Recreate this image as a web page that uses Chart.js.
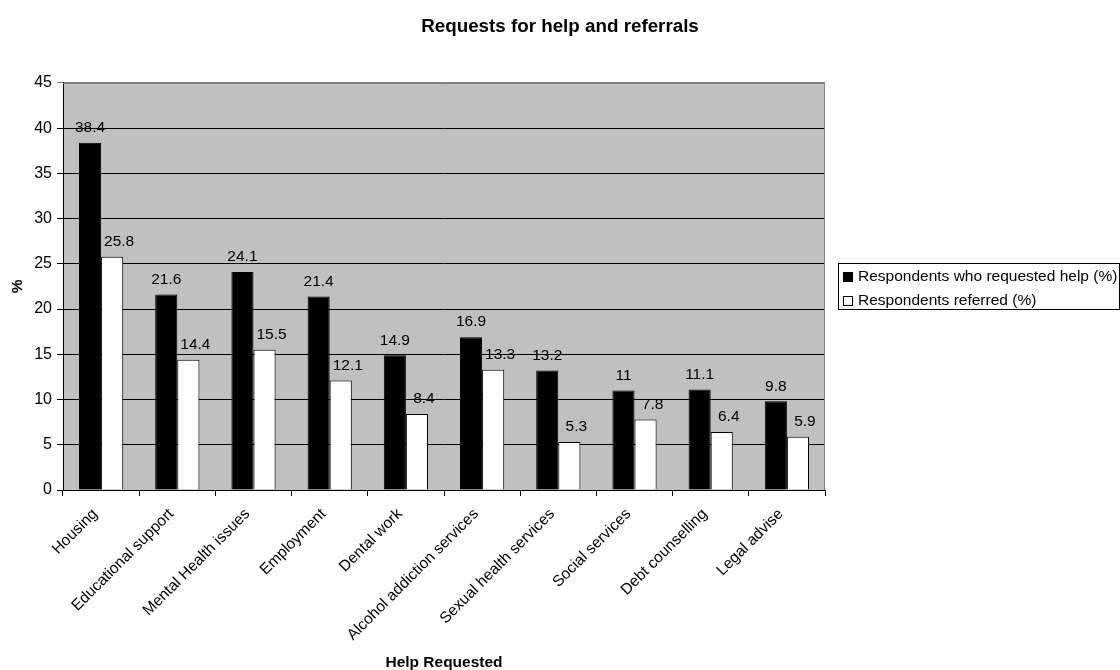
<!DOCTYPE html>
<html>
<head>
<meta charset="utf-8">
<title>Requests for help and referrals</title>
<script src="https://cdn.jsdelivr.net/npm/chart.js@4/dist/chart.umd.min.js"></script>
<style>
  html, body { margin: 0; padding: 0; background: #fff; }
  #wrap { position: relative; width: 1120px; height: 670px; }
  #legend {
    position: absolute; left: 838px; top: 263px; width: 280px; height: 45px;
    border: 1px solid #000; font: 15.5px 'Liberation Sans', Arial, sans-serif; color: #000;
    padding-top: 0;
  }
  #legend .row { height: 24px; line-height: 24px; white-space: nowrap; }
  #legend .sw { display: inline-block; width: 8px; height: 8px; border: 1px solid #000;
    margin: 0 5px 0 4px; vertical-align: -1px; }
</style>
</head>
<body>
<div id="wrap">
  <canvas id="chart"></canvas>
  <div id="legend"></div>
</div>
<script>
'use strict';

const categories = ['Housing', 'Educational support', 'Mental Health issues', 'Employment', 'Dental work',
  'Alcohol addiction services', 'Sexual health services', 'Social services', 'Debt counselling', 'Legal advise'];
const requestedHelp = [38.4, 21.6, 24.1, 21.4, 14.9, 16.9, 13.2, 11, 11.1, 9.8];
const referred = [25.8, 14.4, 15.5, 12.1, 8.4, 13.3, 5.3, 7.8, 6.4, 5.9];
const seriesNames = ['Respondents who requested help (%)', 'Respondents referred (%)'];
const seriesColors = ['#000000', '#ffffff'];

const FONT = "'Liberation Sans', Arial, sans-serif";
const $ = id => document.getElementById(id);

// Gray plot area plus gray frame on top/right (Excel style)
const plotArea = {
  id: 'plotArea',
  beforeDraw(chart) {
    const { ctx, chartArea: a } = chart;
    ctx.save();
    ctx.fillStyle = '#c0c0c0';
    ctx.fillRect(a.left, a.top, a.right - a.left, a.bottom - a.top);
    ctx.restore();
  },
  beforeDatasetsDraw(chart) {
    const { ctx, chartArea: a } = chart;
    ctx.save();
    ctx.strokeStyle = '#808080';
    ctx.lineWidth = 1;
    ctx.beginPath();
    ctx.moveTo(a.left, a.top + 0.5);
    ctx.lineTo(a.right - 0.5, a.top + 0.5);
    ctx.lineTo(a.right - 0.5, a.bottom);
    ctx.stroke();
    ctx.restore();
  }
};

// Value labels above bars
const valueLabels = {
  id: 'valueLabels',
  afterDatasetsDraw(chart) {
    const { ctx } = chart;
    ctx.save();
    ctx.font = `15.5px ${FONT}`;
    ctx.fillStyle = '#000';
    ctx.textAlign = 'center';
    ctx.textBaseline = 'middle';
    chart.data.datasets.forEach((ds, di) => {
      chart.getDatasetMeta(di).data.forEach((bar, i) => {
        ctx.fillText(String(ds.data[i]), bar.x + (di === 1 ? 7 : 0), bar.y - 15);
      });
    });
    ctx.restore();
  }
};

new Chart($('chart'), {
  type: 'bar',
  data: {
    labels: categories,
    datasets: [
      { label: seriesNames[0], data: requestedHelp, backgroundColor: seriesColors[0],
        borderColor: '#000', borderWidth: 1 },
      { label: seriesNames[1], data: referred, backgroundColor: seriesColors[1],
        borderColor: '#000', borderWidth: 1 }
    ]
  },
  options: {
    responsive: true,
    maintainAspectRatio: false,
    animation: false,
    layout: { padding: 0 },
    datasets: { bar: { barPercentage: 1, categoryPercentage: 0.58 } },
    plugins: {
      legend: { display: false },
      tooltip: { enabled: false },
      title: {
        display: true,
        text: 'Requests for help and referrals',
        color: '#000',
        font: { family: FONT, size: 18.8, weight: 'bold', lineHeight: 1.2 },
        padding: { top: 16, bottom: 44.4 }
      }
    },
    scales: {
      x: {
        offset: true,
        grid: { offset: true, drawOnChartArea: false, color: '#000', tickLength: 6 },
        border: { color: '#000' },
        ticks: { color: '#000', font: { family: FONT, size: 15.5 }, minRotation: 45, maxRotation: 45,
          autoSkip: false, padding: 9, labelOffset: -6 },
        title: { display: true, text: 'Help Requested', color: '#000',
          font: { family: FONT, size: 15.5, weight: 'bold', lineHeight: 1 }, padding: { top: 4, bottom: 0 } },
        afterFit: s => { s.height = 180; }
      },
      y: {
        min: 0,
        max: 45,
        ticks: { stepSize: 5, color: '#000', font: { family: FONT, size: 16 }, padding: 5 },
        grid: { color: c => (c.tick && c.tick.value === 45 ? '#808080' : '#000'), tickLength: 6 },
        border: { color: '#000' },
        title: { display: true, text: '%', color: '#000',
          font: { family: FONT, size: 15.5, weight: 'bold', lineHeight: 1 }, padding: { top: 10, bottom: 0 } },
        afterFit: s => { s.width = 63; }
      },
      // empty right-hand strip reserved for the legend box
      legendSpace: {
        type: 'linear',
        position: 'right',
        grid: { display: false },
        border: { display: false },
        ticks: { display: false },
        afterFit: s => { s.width = 295; }
      }
    }
  },
  plugins: [plotArea, valueLabels]
});

// Legend box on the right
$('legend').innerHTML = seriesNames.map((name, i) =>
  `<div class="row"><span class="sw" style="background:${seriesColors[i]}"></span>${name}</div>`
).join('');
</script>
</body>
</html>
